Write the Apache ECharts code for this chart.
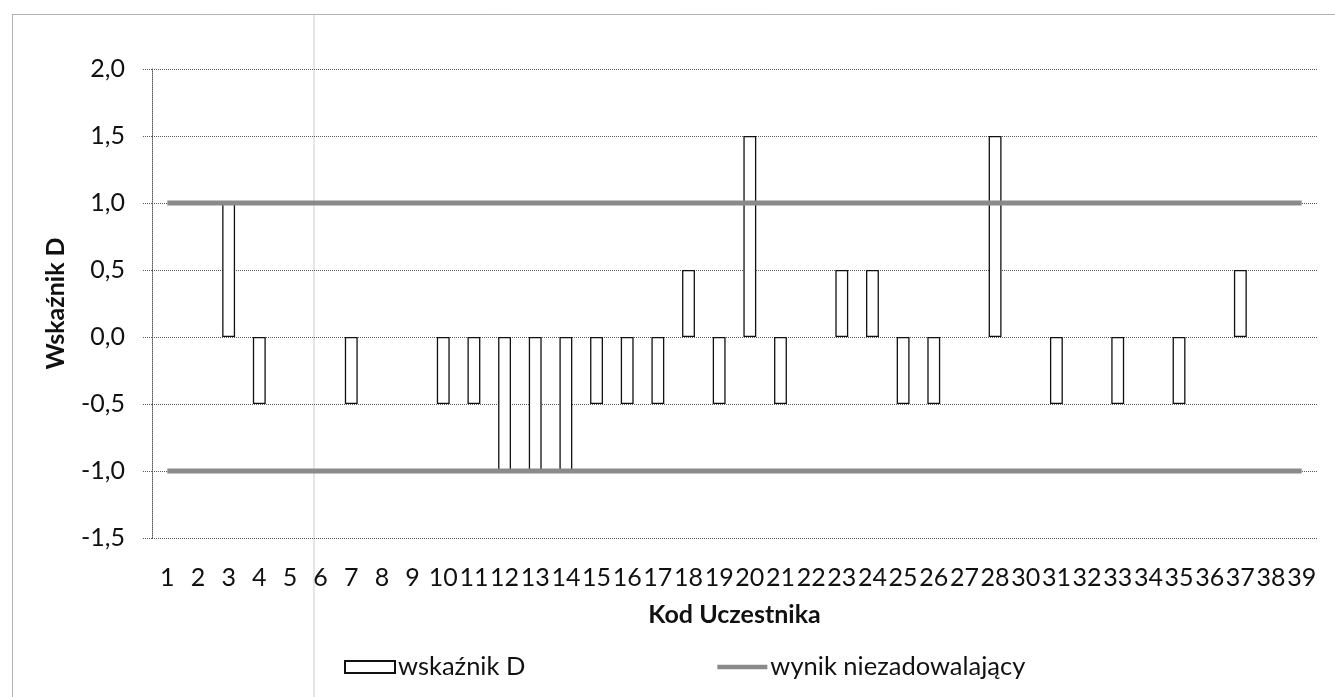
<!DOCTYPE html>
<html>
<head>
<meta charset="utf-8">
<script src="https://cdn.jsdelivr.net/npm/echarts@6/dist/echarts.min.js"></script>
<style>
  html, body { margin: 0; padding: 0; background: #fff; }
  #chart { width: 1335px; height: 697px; }
</style>
</head>
<body>
<div id="chart"></div>
<script>
// Category labels (participant codes; 29 is absent in the source)
const categories = ['1','2','3','4','5','6','7','8','9','10','11','12','13','14','15','16','17','18','19','20',
  '21','22','23','24','25','26','27','28','30','31','32','33','34','35','36','37','38','39'];
// Wskaźnik D values
const wskaznikD = [0, 0, 1.0, -0.5, 0, 0, -0.5, 0, 0, -0.5, -0.5, -1.0, -1.0, -1.0, -0.5, -0.5, -0.5, 0.5, -0.5, 1.5,
  -0.5, 0, 0.5, 0.5, -0.5, -0.5, 0, 1.5, 0, -0.5, 0, -0.5, 0, -0.5, 0, 0.5, 0, 0];
// Unsatisfactory-result thresholds
const upperLimit = [1, 1, 1, 1, 1, 1, 1, 1, 1, 1, 1, 1, 1, 1, 1, 1, 1, 1, 1, 1,
  1, 1, 1, 1, 1, 1, 1, 1, 1, 1, 1, 1, 1, 1, 1, 1, 1, 1];
const lowerLimit = [-1, -1, -1, -1, -1, -1, -1, -1, -1, -1, -1, -1, -1, -1, -1, -1, -1, -1, -1, -1,
  -1, -1, -1, -1, -1, -1, -1, -1, -1, -1, -1, -1, -1, -1, -1, -1, -1, -1];
// Y axis ticks
const yMin = -1.5, yMax = 2.0, yStep = 0.5;

const FONT = 'Lato';
const TXT = '#111';
const GRID = '#5a5a5a';
const dotted = { color: GRID, width: 1, type: [1, 1] };

const chart = echarts.init(document.getElementById('chart'), null, { renderer: 'canvas' });

const barData = wskaznikD.map(v => v === 0 ? { value: v, itemStyle: { borderWidth: 0 } } : v);

chart.setOption({
  animation: false,
  backgroundColor: '#fff',
  textStyle: { fontFamily: FONT, color: TXT },
  graphic: [
    { type: 'rect', silent: true, z: -1,
      shape: { x: 12.5, y: 14.5, width: 1400, height: 800 },
      style: { fill: 'none', stroke: '#666', lineWidth: 1, lineDash: [1, 1] } },
    { type: 'line', silent: true, z: -1,
      shape: { x1: 314, y1: 15, x2: 314, y2: 697 },
      style: { stroke: '#e6e6e6', lineWidth: 2 } }
  ],
  grid: { left: 152, right: 18, top: 69, bottom: 159, containLabel: false },
  legend: {
    left: 339, top: 649,
    itemWidth: 50, itemHeight: 12, itemGap: 192,
    symbolKeepAspect: true,
    textStyle: { fontFamily: FONT, fontSize: 25.5, color: TXT, padding: [0, 0, 0, -2] },
    data: [
      { name: 'wskaźnik D', icon: 'rect' },
      { name: 'wynik niezadowalający', icon: 'path://M0,0 L50,0 L50,4.5 L0,4.5 Z',
        itemStyle: { color: '#8a8a8a', borderWidth: 0 } }
    ]
  },
  xAxis: {
    type: 'category',
    data: categories,
    name: 'Kod Uczestnika',
    nameLocation: 'middle',
    nameGap: 64,
    nameTextStyle: { fontFamily: FONT, fontSize: 25, fontWeight: 'bold', color: TXT },
    axisLine: { show: false },
    axisTick: { show: false },
    axisLabel: { interval: 0, margin: 27, fontFamily: FONT, fontSize: 25, color: TXT },
    splitLine: { show: false }
  },
  yAxis: {
    type: 'value',
    min: yMin, max: yMax, interval: yStep,
    name: 'Wskaźnik D',
    nameLocation: 'middle',
    nameGap: 84,
    nameTextStyle: { fontFamily: FONT, fontSize: 25, fontWeight: 'bold', color: TXT },
    axisLine: { show: true, lineStyle: dotted },
    axisTick: { show: true, length: 9, lineStyle: dotted },
    axisLabel: {
      margin: 27, fontFamily: FONT, fontSize: 25, color: TXT,
      formatter: v => v.toFixed(1).replace('.', ',')
    },
    splitLine: { show: true, lineStyle: dotted }
  },
  series: [
    {
      name: 'wskaźnik D',
      type: 'bar',
      data: barData,
      barWidth: '42%',
      itemStyle: { color: '#ffffff', borderColor: '#111', borderWidth: 1.3 },
      z: 2
    },
    {
      name: 'wynik niezadowalający',
      type: 'line',
      data: upperLimit,
      symbol: 'none',
      lineStyle: { color: '#8a8a8a', width: 5 },
      itemStyle: { color: '#8a8a8a' },
      z: 3
    },
    {
      name: 'wynik niezadowalający',
      type: 'line',
      data: lowerLimit,
      symbol: 'none',
      lineStyle: { color: '#8a8a8a', width: 5 },
      itemStyle: { color: '#8a8a8a' },
      z: 3
    }
  ]
});
</script>
</body>
</html>
